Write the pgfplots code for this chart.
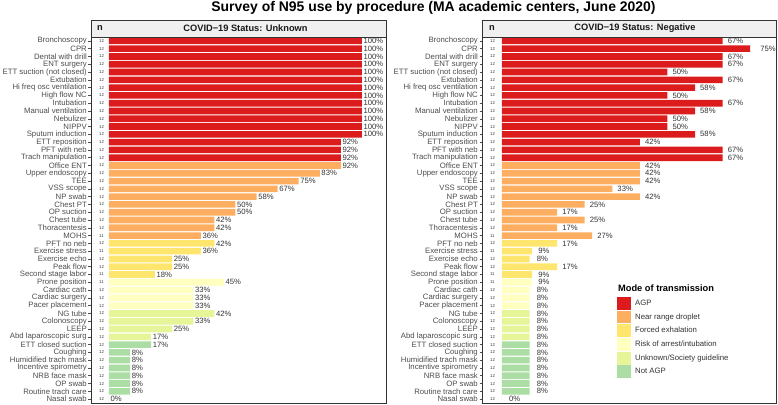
\documentclass[border=0pt]{standalone}
\usepackage{pgfplots}
\pgfplotsset{compat=1.18}
\usepackage{pgfplotstable}
\usepackage{fontspec}
\setmainfont{Liberation Sans}
\definecolor{cAGP}{HTML}{DC1C1C}
\definecolor{cNear}{HTML}{FDAE61}
\definecolor{cForced}{HTML}{FEE66E}
\definecolor{cRisk}{HTML}{FFFFBF}
\definecolor{cUnk}{HTML}{E6F598}
\definecolor{cNot}{HTML}{ABDDA4}
\definecolor{g20}{HTML}{333333}
\definecolor{g30}{HTML}{4D4D4D}
\definecolor{stripgray}{HTML}{F0F0F0}

\pgfplotstableread{
idx n u ul neg nl sh
1 12 100 100 66.67 67 5
2 12 100 100 75 75 10
3 12 100 100 66.67 67 5
4 12 100 100 66.67 67 5
5 12 100 100 50 50 5
6 12 100 100 66.67 67 5
7 12 100 100 58.33 58 5
8 12 100 100 50 50 5
9 12 100 100 66.67 67 5
10 12 100 100 58.33 58 5
11 12 100 100 50 50 5
12 12 100 100 50 50 5
13 12 100 100 58.33 58 5
14 12 91.67 92 41.67 42 5
15 12 91.67 92 66.67 67 5
16 12 91.67 92 66.67 67 5
17 12 91.67 92 41.67 42 5
18 12 83.33 83 41.67 42 5
19 12 75 75 41.67 42 5
20 12 66.67 67 33.33 33 5
21 12 58.33 58 41.67 42 5
22 12 50 50 25 25 5
23 12 50 50 16.67 17 5
24 12 41.67 42 25 25 5
25 12 41.67 42 16.67 17 5
26 11 36.36 36 27.27 27 5
27 12 41.67 42 16.67 17 5
28 11 36.36 36 9.09 9 6
29 12 25 25 8.33 8 7
30 12 25 25 16.67 17 5
31 11 18.18 18 9.09 9 6
32 11 45.45 45 9.09 9 6
33 12 33.33 33 8.33 8 7
34 12 33.33 33 8.33 8 7
35 12 33.33 33 8.33 8 7
36 12 41.67 42 8.33 8 7
37 12 33.33 33 8.33 8 7
38 12 25 25 8.33 8 7
39 12 16.67 17 8.33 8 7
40 12 16.67 17 8.33 8 7
41 12 8.33 8 8.33 8 7
42 12 8.33 8 8.33 8 7
43 12 8.33 8 8.33 8 7
44 12 8.33 8 8.33 8 7
45 12 8.33 8 8.33 8 7
46 12 8.33 8 8.33 8 7
47 12 0 0 0 0 7
}\data

\pgfplotsset{
 panel/.style={
  scale only axis, height=366bp,
  y dir=reverse, ymin=0.5, ymax=47.5,
  ytick={1,...,47},
  yticklabels={Bronchoscopy, CPR, Dental with drill, ENT surgery, ETT suction (not closed), Extubation, Hi freq osc ventilation, High flow NC, Intubation, Manual ventilation, Nebulizer, NIPPV, Sputum induction, ETT reposition, PFT with neb, Trach manipulation, Office ENT, Upper endoscopy, TEE, VSS scope, NP swab, Chest PT, OP suction, Chest tube, Thoracentesis, MOHS, PFT no neb, Exercise stress, Exercise echo, Peak flow, Second stage labor, Prone position, Cardiac cath, Cardiac surgery, Pacer placement, NG tube, Colonoscopy, LEEP, Abd laparoscopic surg, ETT closed suction, Coughing, Humidified trach mask, Incentive spirometry, NRB face mask, OP swab, Routine trach care, Nasal swab},
  xtick=\empty,
  tick align=outside, major tick length=2.5bp,
  ytick pos=left,
  yticklabel style={font=\fontsize{7.8}{8}\selectfont, text=g30, inner xsep=1.5bp},
  ytick style={draw=g30, line width=0.5bp},
  axis line style={draw=g20, line width=0.6bp},
  clip=false,
  anchor=south west,
 },
 bars/.style={xbar, bar width=0.85, bar shift=0pt, draw=none, fill=#1},
}

\begin{document}
\begin{tikzpicture}
\useasboundingbox (0,0) rectangle (778bp,405bp);

% ---------- left panel ----------
\begin{axis}[panel, name=L, at={(91bp,2bp)}, width=295bp, xmin=-7.11, xmax=109.5]
\addplot[bars=cAGP] table[x=u, y=idx, restrict y to domain=0:16.5]{\data};
\addplot[bars=cNear] table[x=u, y=idx, restrict y to domain=16.5:26.5]{\data};
\addplot[bars=cForced] table[x=u, y=idx, restrict y to domain=26.5:31.5]{\data};
\addplot[bars=cRisk] table[x=u, y=idx, restrict y to domain=31.5:35.5]{\data};
\addplot[bars=cUnk] table[x=u, y=idx, restrict y to domain=35.5:39.5]{\data};
\addplot[bars=cNot] table[x=u, y=idx, restrict y to domain=39.5:47.5]{\data};
\addplot[forget plot, draw=none, mark=none, point meta=explicit symbolic,
  nodes near coords={\pgfplotspointmeta\%},
  nodes near coords style={anchor=west, xshift=1.5bp, inner sep=0pt, font=\fontsize{7.7}{8}\selectfont, text=g20}]
  table[x=u, y=idx, meta=ul]{\data};
\addplot[forget plot, draw=none, mark=none, point meta=explicit symbolic,
  nodes near coords={\pgfplotspointmeta},
  nodes near coords style={anchor=west, inner sep=0pt, font=\fontsize{4.3}{5}\selectfont, text=g20}]
  table[x expr=-3.95, y=idx, meta=n]{\data};
\end{axis}

% ---------- right panel ----------
\begin{axis}[panel, name=R, at={(482bp,2bp)}, width=294bp, xmin=-6.04, xmax=82.8,
  legend style={at={(0.459,0.291)}, anchor=north west, draw=none, fill=white,
    inner sep=0pt, outer sep=0pt, row sep=0pt, column sep=0pt,
    font=\fontsize{7.8}{8}\selectfont, text=g20,
    nodes={inner xsep=4.5bp, inner ysep=0pt, minimum height=13.7bp}},
  legend cell align=left,
  legend image code/.code={\fill[#1] (0bp,-6.45bp) rectangle (13.7bp,6.45bp);}]
\addplot[bars=cAGP] table[x=neg, y=idx, restrict y to domain=0:16.5]{\data};
\addplot[bars=cNear] table[x=neg, y=idx, restrict y to domain=16.5:26.5]{\data};
\addplot[bars=cForced] table[x=neg, y=idx, restrict y to domain=26.5:31.5]{\data};
\addplot[bars=cRisk] table[x=neg, y=idx, restrict y to domain=31.5:35.5]{\data};
\addplot[bars=cUnk] table[x=neg, y=idx, restrict y to domain=35.5:39.5]{\data};
\addplot[bars=cNot] table[x=neg, y=idx, restrict y to domain=39.5:47.5]{\data};
\legend{AGP, Near range droplet, Forced exhalation, Risk of arrest/intubation, Unknown/Society guideline, Not AGP}
\addplot[forget plot, draw=none, mark=none, point meta=explicit symbolic,
  visualization depends on={\thisrow{sh} \as \sh},
  nodes near coords={\pgfplotspointmeta\%},
  nodes near coords style={anchor=west, xshift=\sh bp, inner sep=0pt, font=\fontsize{7.7}{8}\selectfont, text=g20}]
  table[x=neg, y=idx, meta=nl]{\data};
\addplot[forget plot, draw=none, mark=none, point meta=explicit symbolic,
  nodes near coords={\pgfplotspointmeta},
  nodes near coords style={anchor=west, inner sep=0pt, font=\fontsize{4.3}{5}\selectfont, text=g20}]
  table[x expr=-3.63, y=idx, meta=n]{\data};
\end{axis}

% strips
\draw[fill=stripgray, draw=g20, line width=0.6bp] (L.north west) rectangle ([yshift=17bp]L.north east);
\draw[fill=stripgray, draw=g20, line width=0.6bp] (R.north west) rectangle ([yshift=17bp]R.north east);
\node[font=\bfseries\fontsize{9.3}{10}\selectfont, text=black!90] at (100bp,376.5bp) {n};
\node[font=\bfseries\fontsize{9.3}{10}\selectfont, text=black!90] at (492bp,376.5bp) {n};
\node[font=\bfseries\fontsize{9.3}{10}\selectfont, text=black!90] at (245.5bp,376.5bp) {COVID−19 Status: Unknown};
\node[font=\bfseries\fontsize{9.3}{10}\selectfont, text=black!90] at (635bp,376.5bp) {COVID−19 Status: Negative};
% title
\node[font=\bfseries\fontsize{14}{16}\selectfont] at (433.5bp,397bp) {Survey of N95 use by procedure (MA academic centers, June 2020)};
% legend title
\node[anchor=west, inner sep=0pt, font=\bfseries\fontsize{9.3}{10}\selectfont] at (618bp,117.3bp) {Mode of transmission};
\end{tikzpicture}
\end{document}
